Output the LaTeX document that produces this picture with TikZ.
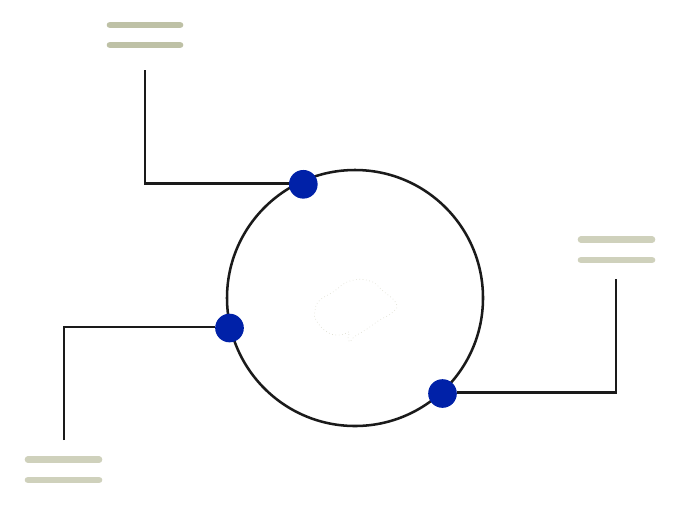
\documentclass[tikz,border=0pt]{standalone}
\definecolor{barA}{HTML}{BEC1A6}
\definecolor{barB}{HTML}{CFD1BC}
\definecolor{dotblue}{HTML}{0021A8}
\definecolor{ink}{HTML}{1A1A1A}
\definecolor{faint}{HTML}{DDDDD0}
\tikzset{
  wire/.style={draw=ink,line width=1.9pt},
  ring/.style={circle,draw=ink,line width=1.9pt,minimum size=192pt,inner sep=0pt,outer sep=0pt},
  port/.style={circle,fill=dotblue,minimum size=21.5pt,inner sep=0pt,outer sep=0pt},
  barone/.style={draw=barA,line width=5pt,line cap=round},
  bartwo/.style={draw=barB,line width=5pt,line cap=round},
  brain/.style={draw=faint,line width=0.5pt,dotted}
}
\begin{document}
\begin{tikzpicture}[x=0.75pt,y=-0.75pt]
\useasboundingbox (0,0) rectangle (680,504);
\node[ring] (main) at (355,298) {};
\draw[brain] plot[smooth cycle,tension=0.8] coordinates {(315,311) (319,301) (333,292) (350,281) (370,281) (383,291) (396,303) (393,312) (378,321) (367,329) (354,337) (350,342) (348,337) (349,332) (340,335) (327,332) (316,320)};
\coordinate (a1) at (145,70);
\coordinate (a2) at (145,183.5);
\coordinate (b1) at (64,440);
\coordinate (b2) at (64,327);
\coordinate (c1) at (616,279);
\coordinate (c2) at (616,392.5);
\node[port] (pa) at (303.3,184.3) {};
\node[port] (pb) at (229.5,328) {};
\node[port] (pc) at (442.5,393.5) {};
\draw[wire] (a1) -- (a2) -- (a2 -| pa.west);
\draw[wire] (b1) -- (b2) -- (b2 -| pb.west);
\draw[wire] (c1) -- (c2) -- (c2 -| pc.east);
\draw[barone] (110,25) -- (180,25);
\draw[barone] (110,45) -- (180,45);
\draw[bartwo] (581,239.6) -- (652,239.6);
\draw[bartwo] (581,260) -- (652,260);
\draw[bartwo] (28,459.7) -- (99,459.7);
\draw[bartwo] (28,480) -- (99,480);
\end{tikzpicture}
\end{document}
